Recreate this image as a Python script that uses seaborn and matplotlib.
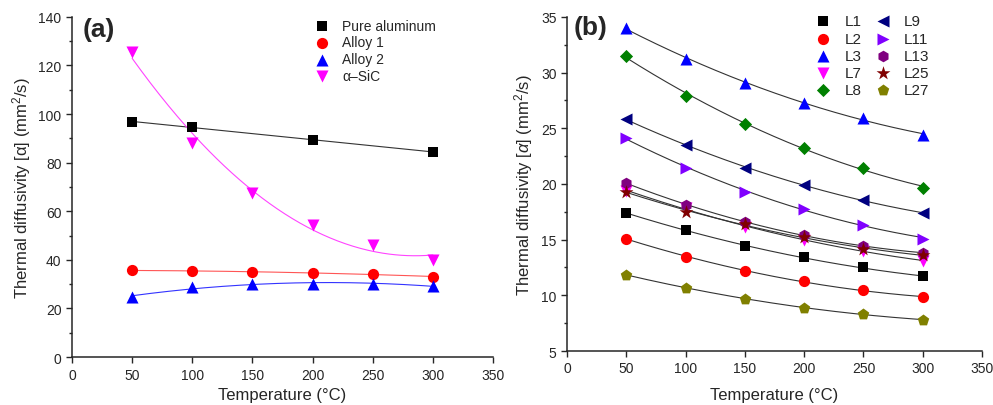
import matplotlib
matplotlib.use("Agg")
import matplotlib.pyplot as plt
import numpy as np
import pandas as pd
import seaborn as sns
from matplotlib.ticker import MultipleLocator

# panel (a)
temps_a = [50, 100, 150, 200, 250, 300]
pure_al_t = [50, 100, 200, 300]
pure_al = [96.8, 94.8, 89.2, 84.5]
alloy1 = [35.7, 35.4, 35.1, 34.6, 34.1, 33.1]
alloy2 = [24.8, 28.8, 30.0, 30.2, 30.1, 29.4]
sic = [125.5, 88.0, 67.5, 54.5, 46.0, 40.0]

# panel (b)
temps_b = [50, 100, 150, 200, 250, 300]
L1 = [17.4, 15.85, 14.4, 13.4, 12.5, 11.7]
L2 = [15.1, 13.45, 12.2, 11.25, 10.45, 9.85]
L3 = [34.0, 31.2, 29.1, 27.3, 25.9, 24.4]
L7 = [19.4, 17.85, 16.1, 15.0, 14.0, 13.1]
L8 = [31.5, 27.9, 25.4, 23.25, 21.45, 19.65]
L9 = [25.8, 23.5, 21.45, 19.9, 18.6, 17.35]
L11 = [24.1, 21.45, 19.3, 17.75, 16.35, 15.1]
L13 = [20.1, 18.1, 16.6, 15.4, 14.45, 13.8]
L25 = [19.3, 17.5, 16.4, 15.2, 14.2, 13.6]
L27 = [11.85, 10.65, 9.7, 8.9, 8.3, 7.8]

sns.set_style("ticks")
plt.rcParams["font.family"] = ["Liberation Sans", "DejaVu Sans"]
plt.rcParams["mathtext.fontset"] = "custom"
plt.rcParams["mathtext.rm"] = "Liberation Sans"
plt.rcParams["mathtext.it"] = "Liberation Sans:italic"

fig = plt.figure(figsize=(9.93, 4.06), dpi=100)
ax_a = fig.add_axes([0.0725, 0.118, 0.424, 0.838])
ax_b = fig.add_axes([0.571, 0.133, 0.418, 0.823])

# marker areas chosen so the shapes look about the same size
SIZES = {"s": 55, "o": 65, "^": 75, "v": 75, "D": 45, "<": 75, ">": 75,
         "h": 70, "*": 110, "p": 75}


def draw(ax, x, y, label, color, marker, fit_color, deg):
    df = pd.DataFrame({"T": x, "D": y})
    xs = np.linspace(min(x), max(x), 200)
    ax.plot(xs, np.polyval(np.polyfit(x, y, deg), xs), color=fit_color, lw=0.8, zorder=1)
    sns.scatterplot(data=df, x="T", y="D", ax=ax, color=color, marker=marker,
                    s=SIZES[marker], linewidth=0, label=label, zorder=3)


draw(ax_a, pure_al_t, pure_al, "Pure aluminum", "black", "s", "#333333", 1)
draw(ax_a, temps_a, alloy1, "Alloy 1", "red", "o", "#ff5555", 2)
draw(ax_a, temps_a, alloy2, "Alloy 2", "blue", "^", "#3333ff", 2)
draw(ax_a, temps_a, sic, "α–SiC", "magenta", "v", "#ff44ff", 2)

series_b = [
    ("L1", L1, "black", "s"),
    ("L2", L2, "red", "o"),
    ("L3", L3, "blue", "^"),
    ("L7", L7, "magenta", "v"),
    ("L8", L8, "#008000", "D"),
    ("L9", L9, "#000080", "<"),
    ("L11", L11, "#8000ff", ">"),
    ("L13", L13, "#800080", "h"),
    ("L25", L25, "#800000", "*"),
    ("L27", L27, "#808000", "p"),
]
for name, vals, col, mk in series_b:
    draw(ax_b, temps_b, vals, name, col, mk, "#333333", 2)

for ax, ylim, major, minor in [(ax_a, (0, 140), 20, 10), (ax_b, (5, 35), 5, 2.5)]:
    ax.set_xlim(0, 350)
    ax.set_ylim(*ylim)
    ax.xaxis.set_major_locator(MultipleLocator(50))
    ax.yaxis.set_major_locator(MultipleLocator(major))
    ax.yaxis.set_minor_locator(MultipleLocator(minor))
    ax.tick_params(which="major", length=4, width=1, labelsize=10, direction="out")
    ax.tick_params(which="minor", length=2.5, width=1, direction="out")
    sns.despine(ax=ax)
    for sp in ax.spines.values():
        sp.set_linewidth(1.1)
    ax.set_xlabel("Temperature (°C)", fontsize=12)

ax_a.set_ylabel("Thermal diffusivity [α] (mm$^2$/s)", fontsize=12)
ax_b.set_ylabel(r"Thermal diffusivity [$\alpha$] (mm$^2$/s)", fontsize=12)
ax_a.xaxis.labelpad = 4
ax_b.xaxis.labelpad = 8

ax_a.text(0.025, 1.0, "(a)", transform=ax_a.transAxes, fontsize=19,
          fontweight="bold", va="top")
ax_b.text(0.017, 1.005, "(b)", transform=ax_b.transAxes, fontsize=19,
          fontweight="bold", va="top")

ax_a.legend(loc="upper left", bbox_to_anchor=(0.56, 1.015), frameon=False,
            fontsize=10, handlelength=1.0, handletextpad=1.0, labelspacing=0.2,
            borderpad=0)
ax_b.legend(loc="upper left", bbox_to_anchor=(0.58, 1.03), frameon=False,
            fontsize=11, ncol=2, handlelength=1.0, handletextpad=0.9,
            labelspacing=0.2, columnspacing=0.9, borderpad=0)

fig.savefig("out.png", dpi=100)
